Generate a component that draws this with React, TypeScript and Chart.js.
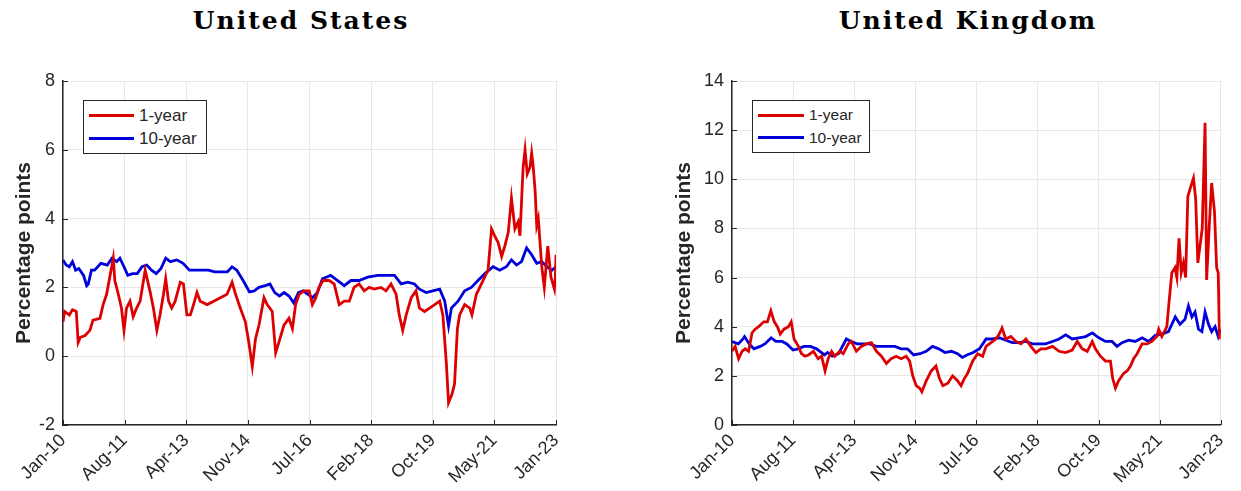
import { useEffect, useRef } from "react";
import { Chart, registerables, type ChartConfiguration, type Plugin } from "chart.js";

Chart.register(...registerables);

// month index since Jan-10 (0) up to Jan-23 (156)
const xTickPositions = [0, 19.5, 39, 58.5, 78, 97.5, 117, 136.5, 156];
const xTickLabels = ["Jan-10", "Aug-11", "Apr-13", "Nov-14", "Jul-16", "Feb-18", "Oct-19", "May-21", "Jan-23"];

const usOneYear: [number, number][] = [
  [0, 1.0], [0.5, 1.3], [2, 1.2], [3, 1.35], [4.2, 1.3], [4.8, 0.4], [5.5, 0.55], [7, 0.6], [8.5, 0.75],
  [9.5, 1.05], [11.7, 1.1], [12.7, 1.5], [13.8, 1.8], [15.4, 2.6], [15.9, 2.85], [16.4, 2.2], [17.5, 1.8],
  [18.5, 1.4], [19.3, 0.75], [20.1, 1.4], [21.2, 1.6], [22.2, 1.15], [23.3, 1.4], [24.4, 1.6], [26, 2.5],
  [26.5, 2.3], [27.5, 1.9], [28.6, 1.4], [29.7, 0.75], [30.7, 1.2], [31.8, 1.8], [32.5, 2.25], [33.4, 1.6],
  [34.4, 1.4], [35.5, 1.6], [37.1, 2.15], [38.1, 2.1], [39.2, 1.2], [40.3, 1.2], [41.3, 1.5], [42.4, 1.85],
  [43.4, 1.6], [45.6, 1.5], [47.7, 1.6], [49.8, 1.7], [51.9, 1.8], [53.5, 2.15], [54.6, 1.8], [56.1, 1.4],
  [57.7, 1.0], [58.8, 0.4], [59.9, -0.3], [60.9, 0.5], [62, 0.9], [63.6, 1.7], [64.6, 1.5], [66.2, 1.3],
  [67.3, 0.1], [68.3, 0.4], [69.9, 0.9], [71.5, 1.1], [72.6, 0.8], [73.6, 1.5], [74.7, 1.8], [76.3, 1.9],
  [77.9, 1.9], [78.9, 1.5], [80, 1.7], [81, 2.0], [82.3, 2.2], [84.2, 2.2], [85.8, 2.1], [87.4, 1.5],
  [89, 1.6], [90.6, 1.6], [92.1, 2.0], [93.7, 2.1], [95.3, 1.9], [96.9, 2.0], [98.5, 1.95], [100.6, 2.0],
  [102.2, 1.9], [103.8, 2.1], [105.4, 1.8], [106.4, 1.2], [107.5, 0.75], [108.6, 1.2], [110.2, 1.7],
  [111.7, 1.9], [112.8, 1.4], [114.4, 1.3], [116, 1.4], [117.6, 1.5], [119.2, 1.6], [120.2, 1.2],
  [121.3, -0.2], [122, -1.35], [123.1, -1.1], [123.9, -0.8], [124.8, 0.8], [125.5, 1.2], [127.1, 1.5],
  [128.7, 1.4], [129.4, 1.2], [130.8, 1.8], [132.9, 2.2], [134.5, 2.5], [135.6, 3.7], [136.6, 3.5],
  [137.7, 3.3], [138.8, 2.9], [139.8, 3.2], [140.9, 3.6], [141.9, 4.6], [143, 3.7], [144, 3.9],
  [144.6, 3.5], [145.6, 5.5], [146.2, 6.0], [146.9, 5.3], [147.8, 5.5], [148.3, 5.9], [148.8, 5.5],
  [149.4, 4.8], [149.9, 3.8], [150.4, 4.0], [151.5, 2.6], [152.3, 2.0], [153.4, 3.2], [154.4, 2.3],
  [155.5, 1.95], [155.8, 2.3], [156, 2.95],
];

const usTenYear: [number, number][] = [
  [0, 2.8], [1, 2.65], [2, 2.6], [3, 2.75], [4, 2.5], [5, 2.55], [6.5, 2.35], [7.5, 2.05], [8, 2.1],
  [9, 2.5], [10, 2.5], [12, 2.7], [14, 2.65], [15.5, 2.85], [17, 2.75], [18, 2.85], [19.3, 2.6],
  [20.5, 2.35], [22, 2.4], [23.5, 2.4], [25, 2.6], [26.5, 2.65], [28, 2.5], [29.5, 2.4], [31, 2.55],
  [32.5, 2.85], [34, 2.75], [36, 2.8], [38, 2.7], [40, 2.5], [42, 2.5], [44, 2.5], [46, 2.5], [48, 2.45],
  [50, 2.45], [52, 2.45], [53.5, 2.6], [55, 2.5], [57, 2.2], [59, 1.87], [60.5, 1.9], [62, 2.0],
  [64, 2.05], [65.5, 2.1], [67, 1.85], [68.5, 1.75], [70, 1.85], [71.5, 1.75], [73, 1.55], [74.5, 1.85],
  [76, 1.9], [77.5, 1.8], [79, 1.7], [80.5, 1.85], [82.1, 2.25], [84.7, 2.35], [86.9, 2.2], [89, 2.05],
  [91.1, 2.2], [93.7, 2.2], [96.4, 2.3], [99.6, 2.35], [102.7, 2.35], [104.9, 2.35], [107, 2.1],
  [109.1, 2.15], [111.2, 2.1], [112.8, 1.95], [114.9, 1.85], [117, 1.9], [119.2, 1.95], [120.8, 1.6],
  [122, 0.88], [122.9, 1.4], [125, 1.6], [127.1, 1.9], [129.2, 2.0], [131.3, 2.2], [133.5, 2.4],
  [136.1, 2.6], [138.2, 2.5], [140.3, 2.6], [141.9, 2.8], [143.5, 2.65], [145.1, 2.75], [146.7, 3.15],
  [148.3, 2.95], [149.9, 2.7], [151.5, 2.75], [153.1, 2.6], [154.7, 2.5], [156, 2.6],
];

const ukOneYear: [number, number][] = [
  [0, 3.0], [1, 3.2], [2.1, 2.7], [3.2, 3.0], [4.2, 3.1], [5.3, 3.0], [6.4, 3.75], [7.4, 3.9], [8.5, 4.0],
  [10.1, 4.2], [11.3, 4.2], [12.4, 4.65], [13.5, 4.2], [14.5, 4.0], [15.4, 3.7], [16.6, 3.9], [18, 4.0],
  [18.9, 4.2], [19.8, 3.5], [21.2, 3.2], [22.2, 2.9], [23.3, 2.8], [24.4, 2.85], [26, 3.0], [27.5, 2.7],
  [28.6, 2.8], [29.7, 2.2], [30.7, 2.7], [31.8, 3.0], [32.8, 2.8], [34.4, 3.0], [35.5, 2.9], [37.1, 3.3],
  [38.1, 3.4], [39.7, 3.0], [41.3, 3.2], [42.9, 3.3], [44.5, 3.35], [46.1, 3.0], [47.7, 2.8], [49.3, 2.5],
  [50.8, 2.7], [52.4, 2.8], [54, 2.7], [55.6, 2.8], [56.7, 2.6], [57.7, 2.0], [58.8, 1.6], [59.9, 1.5],
  [60.6, 1.35], [62, 1.8], [63.6, 2.2], [65.1, 2.4], [66.2, 1.9], [67.3, 1.6], [68.9, 1.7], [70.4, 2.0],
  [72, 1.8], [73.1, 1.6], [74.2, 1.9], [75.2, 2.1], [76.8, 2.6], [78.4, 2.9], [80, 2.8], [81.1, 3.2],
  [82.7, 3.35], [84.2, 3.5], [85.3, 3.7], [86.2, 3.95], [87.4, 3.5], [89, 3.6], [90.6, 3.4], [92.2, 3.3],
  [93.8, 3.5], [95.4, 3.2], [97, 2.95], [98.6, 3.1], [100.1, 3.1], [102.3, 3.2], [104.4, 3.0],
  [106.5, 2.95], [108.6, 3.05], [110.2, 3.4], [111.8, 3.1], [113.4, 3.0], [115, 3.4], [116, 3.1],
  [117.6, 2.8], [119.2, 2.6], [120.8, 2.6], [121.5, 1.9], [122.4, 1.5], [123.4, 1.8], [125, 2.1],
  [126.1, 2.2], [127.2, 2.4], [128.2, 2.7], [129.3, 2.9], [130.9, 3.3], [132.5, 3.3], [134, 3.4],
  [135.6, 3.6], [136.2, 3.9], [137.2, 3.6], [138.8, 4.0], [139.5, 5.0], [140.4, 6.2], [141.4, 6.4],
  [142, 6.0], [142.7, 7.6], [143.4, 6.2], [144.1, 6.6], [144.8, 6.0], [145.5, 9.3], [146.2, 9.6],
  [147.3, 10.05], [148, 9.2], [148.7, 6.6], [149.4, 7.3], [150.1, 8.0], [151, 12.3], [151.5, 5.9],
  [152.3, 8.0], [153.1, 9.85], [154, 8.7], [154.7, 6.4], [155.2, 6.2], [155.6, 3.5], [156, 3.9],
];

const ukTenYear: [number, number][] = [
  [0, 3.4], [2, 3.3], [3.5, 3.5], [4, 3.6], [5.5, 3.3], [7, 3.1], [9, 3.2], [10.5, 3.3], [12.5, 3.55],
  [14, 3.4], [16, 3.4], [17.5, 3.3], [19.5, 3.05], [21, 3.1], [23, 3.2], [25, 3.2], [27, 3.1], [29.5, 2.85],
  [30.5, 2.95], [32, 2.8], [34, 2.9], [36.5, 3.5], [38, 3.4], [40, 3.3], [42, 3.3], [44, 3.3], [46, 3.2],
  [48, 3.2], [50, 3.2], [52, 3.2], [54, 3.1], [56, 3.1], [58, 2.85], [60, 2.9], [62, 3.0], [64, 3.2],
  [66, 3.1], [68, 2.95], [70, 3.0], [72, 2.9], [73.5, 2.75], [75, 2.85], [77, 2.95], [79, 3.1], [81.1, 3.5],
  [83.2, 3.5], [85.3, 3.55], [87.4, 3.45], [89.5, 3.35], [91.7, 3.35], [93.8, 3.4], [95.9, 3.3], [98, 3.3],
  [100.1, 3.3], [102.3, 3.4], [104.4, 3.5], [106.5, 3.67], [108.6, 3.5], [110.7, 3.55], [112.9, 3.6],
  [115, 3.75], [117.1, 3.55], [119.2, 3.4], [121.3, 3.4], [122.9, 3.2], [124.5, 3.35], [126.6, 3.45],
  [128.7, 3.4], [130.9, 3.55], [133, 3.4], [135.1, 3.65], [137.2, 3.7], [139.3, 3.8], [141.5, 4.4],
  [143, 4.1], [144.6, 4.3], [145.7, 4.85], [146.8, 4.4], [147.8, 4.6], [148.9, 3.9], [150, 3.8],
  [151, 4.6], [152.1, 4.1], [153.1, 3.8], [154.2, 4.0], [155.2, 3.6], [156, 3.9],
];

const RED = "#dd0000";
const BLUE = "#0000dd";
const AXIS = "#262626";
const SANS = "'Liberation Sans', Arial, sans-serif";

// MATLAB-style ticks pointing into the plot area
const innerTicks: Plugin<"line"> = {
  id: "innerTicks",
  afterDraw(chart) {
    const { ctx, chartArea, scales } = chart;
    ctx.save();
    ctx.strokeStyle = AXIS;
    ctx.lineWidth = 1;
    ctx.beginPath();
    for (const t of scales.x.ticks) {
      const px = Math.round(scales.x.getPixelForValue(t.value)) + 0.5;
      ctx.moveTo(px, chartArea.bottom);
      ctx.lineTo(px, chartArea.bottom - 5);
    }
    for (const t of scales.y.ticks) {
      const py = Math.round(scales.y.getPixelForValue(t.value)) + 0.5;
      ctx.moveTo(chartArea.left, py);
      ctx.lineTo(chartArea.left + 5, py);
    }
    ctx.stroke();
    ctx.restore();
  },
};

interface PanelProps {
  title: string;
  titleCenter: number;
  oneYear: [number, number][];
  tenYear: [number, number][];
  yMin: number;
  yMax: number;
  left: number;
  width: number;
  padLeft: number;
  padRight: number;
  yWidth: number;
  legendBox: { left: number; top: number; width: number; height: number; font: number; line: number };
}

function Panel(p: PanelProps) {
  const canvasRef = useRef<HTMLCanvasElement>(null);

  useEffect(() => {
    if (!canvasRef.current) return;
    const config: ChartConfiguration<"line", [number, number][]> = {
      type: "line",
      data: {
        datasets: [
          { label: "1-year", data: p.oneYear, borderColor: RED, borderWidth: 2.8, pointRadius: 0, tension: 0 },
          { label: "10-year", data: p.tenYear, borderColor: BLUE, borderWidth: 2.8, pointRadius: 0, tension: 0 },
        ],
      },
      options: {
        animation: false,
        responsive: true,
        maintainAspectRatio: false,
        layout: { padding: { top: 81, bottom: 0, left: p.padLeft, right: p.padRight } },
        plugins: { legend: { display: false }, title: { display: false }, tooltip: { enabled: false } },
        scales: {
          x: {
            type: "linear",
            min: 0,
            max: 156,
            afterBuildTicks: (axis) => {
              axis.ticks = xTickPositions.map((v) => ({ value: v }));
            },
            afterFit: (axis) => {
              axis.height = 66;
            },
            ticks: {
              autoSkip: false,
              minRotation: 45,
              maxRotation: 45,
              padding: 5,
              color: AXIS,
              font: { family: SANS, size: 18 },
              callback: (_v, i) => xTickLabels[i],
            },
            grid: { color: "#e8e8e8", drawTicks: false },
            border: { display: true, color: AXIS, width: 1.5 },
          },
          y: {
            min: p.yMin,
            max: p.yMax,
            afterFit: (axis) => {
              axis.width = p.yWidth;
            },
            ticks: { stepSize: 2, padding: 8, color: AXIS, font: { family: SANS, size: 18 } },
            grid: { color: "#e8e8e8", drawTicks: false },
            border: { display: true, color: AXIS, width: 1.5 },
            title: {
              display: true,
              text: "Percentage points",
              color: AXIS,
              font: { family: SANS, size: 21, weight: "bold" },
              padding: { top: 12, bottom: 0 },
            },
          },
        },
      },
      plugins: [innerTicks],
    };
    const chart = new Chart(canvasRef.current, config);
    return () => chart.destroy();
  }, [p]);

  const lg = p.legendBox;
  const row = (color: string, text: string) => (
    <div style={{ display: "flex", alignItems: "center", height: (lg.height - 8) / 2 }}>
      <span style={{ display: "inline-block", width: lg.line, height: 3, background: color, marginRight: 5 }} />
      <span>{text}</span>
    </div>
  );

  return (
    <>
      <div
        style={{
          position: "absolute",
          left: p.titleCenter - 200,
          width: 400,
          top: 8,
          textAlign: "center",
          font: "bold 25px 'DejaVu Serif', serif",
          letterSpacing: 2,
          lineHeight: "25px",
          color: "#000",
        }}
      >
        {p.title}
      </div>
      <div style={{ position: "absolute", left: p.left, top: 0, width: p.width, height: 491 }}>
        <canvas ref={canvasRef} />
      </div>
      <div
        style={{
          position: "absolute",
          left: lg.left,
          top: lg.top,
          width: lg.width,
          height: lg.height,
          boxSizing: "border-box",
          border: "1.5px solid #262626",
          background: "#fff",
          padding: "3px 5px",
          fontFamily: SANS,
          fontSize: lg.font,
          color: AXIS,
        }}
      >
        {row(RED, "1-year")}
        {row(BLUE, "10-year")}
      </div>
    </>
  );
}

const usPanel: PanelProps = {
  title: "United States",
  titleCenter: 301,
  oneYear: usOneYear,
  tenYear: usTenYear,
  yMin: -2,
  yMax: 8,
  left: 0,
  width: 620,
  padLeft: 0,
  padRight: 64,
  yWidth: 63,
  legendBox: { left: 83, top: 100, width: 124, height: 54, font: 17, line: 45 },
};

const ukPanel: PanelProps = {
  title: "United Kingdom",
  titleCenter: 968,
  oneYear: ukOneYear,
  tenYear: ukTenYear,
  yMin: 0,
  yMax: 14,
  left: 620,
  width: 621,
  padLeft: 40,
  padRight: 19,
  yWidth: 72,
  legendBox: { left: 752, top: 100, width: 118, height: 53, font: 15.5, line: 46 },
};

export default function App() {
  return (
    <div style={{ position: "absolute", left: 0, top: 0, width: 1241, height: 491, background: "#fff" }}>
      <Panel {...usPanel} />
      <Panel {...ukPanel} />
    </div>
  );
}
